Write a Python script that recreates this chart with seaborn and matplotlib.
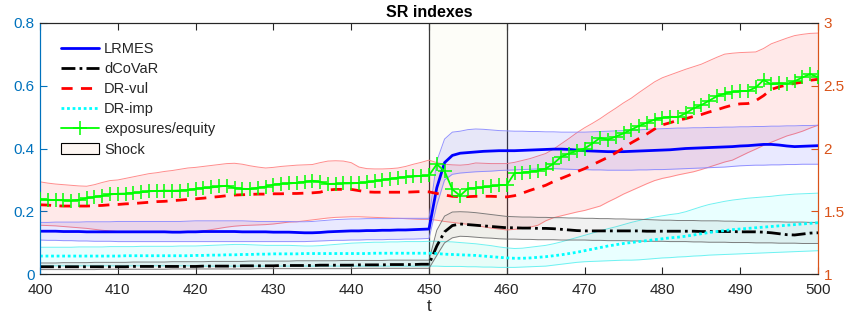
import numpy as np
import pandas as pd
import matplotlib
matplotlib.use("Agg")
import matplotlib.pyplot as plt
import seaborn as sns
from matplotlib.patches import Patch

t = list(range(400, 501))

lrmes = [0.137,0.137,0.137,0.136,0.136,0.136,0.135,0.135,0.135,0.135,
         0.135,0.135,0.135,0.135,0.135,0.135,0.135,0.134,0.134,0.135,
         0.135,0.136,0.136,0.136,0.136,0.136,0.135,0.135,0.135,0.135,
         0.134,0.134,0.134,0.133,0.132,0.132,0.133,0.135,0.136,0.137,
         0.138,0.138,0.139,0.139,0.140,0.140,0.141,0.141,0.142,0.143,
         0.144,0.275,0.355,0.378,0.385,0.387,0.389,0.391,0.392,0.393,
         0.393,0.393,0.394,0.395,0.396,0.397,0.398,0.398,0.397,0.395,
         0.393,0.392,0.391,0.390,0.390,0.390,0.391,0.392,0.393,0.394,
         0.395,0.396,0.398,0.400,0.401,0.402,0.403,0.404,0.405,0.406,
         0.408,0.409,0.411,0.413,0.413,0.411,0.408,0.406,0.407,0.408,0.409]
lrmes_hi = [0.165,0.165,0.166,0.166,0.166,0.166,0.167,0.167,0.167,0.167,
            0.168,0.168,0.168,0.168,0.168,0.168,0.168,0.168,0.168,0.169,
            0.170,0.170,0.170,0.170,0.170,0.170,0.170,0.169,0.168,0.168,
            0.168,0.168,0.168,0.167,0.167,0.168,0.170,0.172,0.174,0.175,
            0.176,0.176,0.177,0.177,0.177,0.177,0.178,0.178,0.178,0.178,
            0.178,0.360,0.430,0.452,0.455,0.460,0.462,0.461,0.459,0.457,
            0.456,0.455,0.455,0.454,0.454,0.453,0.453,0.452,0.452,0.452,
            0.452,0.453,0.454,0.455,0.456,0.457,0.458,0.459,0.461,0.462,
            0.463,0.464,0.465,0.465,0.466,0.466,0.467,0.467,0.468,0.468,
            0.469,0.469,0.470,0.470,0.471,0.471,0.472,0.472,0.473,0.473,0.474]
lrmes_lo = [0.109,0.108,0.108,0.107,0.107,0.106,0.106,0.105,0.105,0.105,
            0.104,0.104,0.104,0.104,0.104,0.104,0.104,0.104,0.104,0.104,
            0.104,0.104,0.104,0.104,0.104,0.104,0.104,0.104,0.104,0.104,
            0.104,0.104,0.104,0.104,0.104,0.105,0.106,0.107,0.108,0.108,
            0.109,0.109,0.110,0.110,0.110,0.111,0.111,0.112,0.112,0.113,
            0.114,0.220,0.300,0.318,0.322,0.324,0.326,0.327,0.328,0.330,
            0.331,0.332,0.333,0.334,0.335,0.336,0.336,0.335,0.334,0.333,
            0.333,0.332,0.332,0.331,0.331,0.331,0.331,0.332,0.332,0.333,
            0.333,0.334,0.335,0.336,0.337,0.338,0.339,0.340,0.341,0.343,
            0.345,0.346,0.347,0.347,0.348,0.348,0.349,0.349,0.350,0.350,0.350]

dcovar = [0.024,0.024,0.024,0.024,0.024,0.024,0.024,0.024,0.024,0.024,
          0.024,0.024,0.025,0.025,0.025,0.025,0.025,0.025,0.025,0.025,
          0.025,0.026,0.026,0.026,0.026,0.026,0.027,0.027,0.027,0.027,
          0.027,0.028,0.028,0.028,0.028,0.028,0.029,0.029,0.029,0.029,
          0.029,0.030,0.030,0.030,0.030,0.031,0.031,0.031,0.031,0.032,
          0.032,0.090,0.135,0.155,0.160,0.158,0.156,0.154,0.152,0.150,
          0.148,0.148,0.147,0.147,0.146,0.146,0.145,0.143,0.141,0.139,
          0.138,0.138,0.138,0.138,0.138,0.138,0.138,0.138,0.137,0.137,
          0.137,0.137,0.137,0.137,0.137,0.136,0.136,0.136,0.136,0.136,
          0.135,0.135,0.135,0.134,0.132,0.129,0.126,0.125,0.128,0.131,0.132]
dcovar_hi = [0.036,0.036,0.036,0.037,0.037,0.037,0.037,0.038,0.038,0.038,
             0.038,0.038,0.039,0.039,0.039,0.039,0.039,0.040,0.040,0.040,
             0.040,0.040,0.041,0.041,0.041,0.041,0.041,0.042,0.042,0.042,
             0.042,0.042,0.042,0.043,0.043,0.043,0.043,0.043,0.043,0.044,
             0.044,0.044,0.044,0.044,0.044,0.045,0.045,0.045,0.045,0.045,
             0.045,0.140,0.185,0.198,0.199,0.198,0.196,0.193,0.190,0.187,
             0.184,0.183,0.182,0.182,0.181,0.181,0.180,0.180,0.179,0.179,
             0.178,0.178,0.177,0.177,0.176,0.176,0.175,0.175,0.174,0.173,
             0.172,0.172,0.171,0.171,0.171,0.170,0.170,0.170,0.169,0.169,
             0.168,0.168,0.168,0.167,0.167,0.167,0.166,0.166,0.166,0.165,0.165]
dcovar_lo = [0.015,0.015,0.015,0.015,0.015,0.015,0.015,0.015,0.016,0.016,
             0.016,0.016,0.016,0.016,0.016,0.016,0.016,0.017,0.017,0.017,
             0.017,0.017,0.017,0.017,0.017,0.017,0.017,0.017,0.018,0.018,
             0.018,0.018,0.018,0.018,0.018,0.018,0.018,0.018,0.018,0.018,
             0.018,0.019,0.019,0.019,0.019,0.019,0.019,0.019,0.019,0.019,
             0.019,0.060,0.100,0.116,0.121,0.120,0.118,0.116,0.115,0.113,
             0.112,0.112,0.111,0.111,0.110,0.110,0.110,0.109,0.109,0.109,
             0.109,0.108,0.108,0.107,0.107,0.107,0.106,0.106,0.105,0.105,
             0.105,0.104,0.104,0.104,0.103,0.103,0.102,0.102,0.102,0.101,
             0.101,0.101,0.100,0.100,0.100,0.099,0.099,0.099,0.098,0.098,0.098]

drvul = [0.221,0.220,0.218,0.217,0.217,0.217,0.217,0.218,0.219,0.221,
         0.222,0.224,0.225,0.227,0.229,0.231,0.232,0.234,0.236,0.238,
         0.240,0.242,0.245,0.247,0.250,0.252,0.253,0.254,0.255,0.255,
         0.256,0.256,0.257,0.257,0.258,0.259,0.261,0.268,0.270,0.270,
         0.270,0.266,0.262,0.261,0.261,0.261,0.261,0.261,0.262,0.263,
         0.262,0.257,0.252,0.248,0.247,0.247,0.248,0.248,0.248,0.247,
         0.246,0.250,0.258,0.267,0.275,0.283,0.295,0.305,0.315,0.326,
         0.336,0.348,0.360,0.372,0.386,0.402,0.418,0.432,0.446,0.462,
         0.475,0.482,0.490,0.495,0.502,0.508,0.516,0.523,0.531,0.538,
         0.542,0.543,0.552,0.568,0.588,0.596,0.602,0.607,0.611,0.617,0.620]
drvul_hi = [0.294,0.290,0.287,0.285,0.283,0.281,0.280,0.285,0.292,0.298,
            0.300,0.305,0.310,0.315,0.320,0.323,0.327,0.330,0.334,0.338,
            0.340,0.343,0.346,0.349,0.352,0.353,0.350,0.345,0.341,0.338,
            0.340,0.343,0.345,0.347,0.348,0.349,0.355,0.360,0.361,0.360,
            0.355,0.341,0.336,0.335,0.335,0.336,0.338,0.343,0.350,0.356,
            0.363,0.355,0.350,0.348,0.347,0.349,0.354,0.353,0.352,0.352,
            0.352,0.356,0.362,0.368,0.376,0.384,0.398,0.415,0.432,0.450,
            0.466,0.480,0.495,0.512,0.528,0.545,0.560,0.578,0.595,0.612,
            0.625,0.634,0.643,0.652,0.660,0.668,0.679,0.690,0.700,0.703,
            0.705,0.706,0.707,0.718,0.733,0.742,0.751,0.759,0.763,0.766,0.767]
drvul_lo = [0.156,0.155,0.154,0.152,0.150,0.148,0.146,0.143,0.140,0.138,
            0.136,0.135,0.135,0.134,0.134,0.134,0.134,0.134,0.134,0.135,
            0.135,0.138,0.142,0.146,0.150,0.153,0.155,0.156,0.157,0.158,
            0.160,0.163,0.166,0.167,0.170,0.173,0.176,0.179,0.181,0.182,
            0.183,0.183,0.182,0.181,0.180,0.179,0.178,0.177,0.176,0.175,
            0.175,0.172,0.168,0.165,0.162,0.159,0.155,0.151,0.147,0.144,
            0.141,0.143,0.146,0.150,0.156,0.170,0.180,0.186,0.192,0.198,
            0.203,0.210,0.217,0.230,0.242,0.255,0.266,0.277,0.288,0.298,
            0.305,0.310,0.316,0.321,0.326,0.333,0.341,0.349,0.357,0.363,
            0.375,0.387,0.398,0.410,0.420,0.430,0.440,0.447,0.455,0.465,0.474]

drimp = [0.058,0.058,0.058,0.058,0.058,0.058,0.058,0.058,0.058,0.058,
         0.058,0.059,0.059,0.059,0.059,0.059,0.059,0.059,0.059,0.059,
         0.060,0.060,0.061,0.061,0.062,0.062,0.063,0.063,0.064,0.064,
         0.065,0.065,0.065,0.065,0.066,0.066,0.066,0.066,0.066,0.066,
         0.066,0.066,0.066,0.067,0.067,0.067,0.067,0.067,0.067,0.067,
         0.067,0.066,0.064,0.063,0.062,0.061,0.060,0.058,0.056,0.054,
         0.052,0.051,0.051,0.052,0.054,0.056,0.059,0.062,0.066,0.070,
         0.075,0.080,0.085,0.090,0.094,0.098,0.101,0.104,0.107,0.110,
         0.113,0.116,0.118,0.121,0.125,0.129,0.133,0.136,0.139,0.142,
         0.144,0.146,0.148,0.150,0.152,0.154,0.156,0.158,0.160,0.162,0.164]
drimp_hi = [0.086,0.086,0.086,0.086,0.086,0.087,0.087,0.087,0.087,0.088,
            0.088,0.088,0.088,0.089,0.089,0.089,0.089,0.089,0.090,0.090,
            0.090,0.091,0.092,0.093,0.094,0.095,0.095,0.094,0.093,0.092,
            0.092,0.092,0.092,0.091,0.090,0.090,0.091,0.093,0.095,0.097,
            0.099,0.100,0.101,0.102,0.102,0.103,0.103,0.104,0.104,0.104,
            0.105,0.105,0.104,0.103,0.101,0.099,0.097,0.094,0.091,0.087,
            0.084,0.082,0.083,0.086,0.089,0.092,0.097,0.103,0.110,0.117,
            0.124,0.131,0.138,0.145,0.151,0.158,0.165,0.171,0.177,0.182,
            0.186,0.190,0.193,0.199,0.207,0.215,0.222,0.227,0.232,0.236,
            0.239,0.242,0.244,0.246,0.248,0.251,0.253,0.255,0.256,0.257,0.258]
drimp_lo = [0.027,0.027,0.027,0.027,0.027,0.027,0.027,0.027,0.027,0.027,
            0.027,0.027,0.027,0.027,0.027,0.027,0.027,0.027,0.027,0.027,
            0.026,0.026,0.026,0.026,0.026,0.026,0.026,0.026,0.026,0.026,
            0.026,0.026,0.026,0.026,0.026,0.026,0.026,0.026,0.026,0.026,
            0.026,0.026,0.026,0.026,0.026,0.026,0.026,0.026,0.026,0.026,
            0.026,0.026,0.025,0.025,0.025,0.024,0.024,0.023,0.023,0.022,
            0.022,0.022,0.023,0.024,0.025,0.026,0.029,0.032,0.035,0.038,
            0.040,0.041,0.042,0.043,0.044,0.045,0.045,0.046,0.048,0.050,
            0.052,0.053,0.055,0.056,0.058,0.059,0.061,0.062,0.063,0.064,
            0.065,0.066,0.067,0.068,0.069,0.070,0.071,0.072,0.073,0.074,0.075]

exposures = [1.596,1.593,1.590,1.588,1.586,1.592,1.605,1.615,1.625,1.635,
             1.640,1.642,1.648,1.652,1.660,1.662,1.665,1.664,1.666,1.670,
             1.680,1.686,1.690,1.698,1.704,1.686,1.680,1.677,1.688,1.697,
             1.712,1.720,1.722,1.727,1.735,1.744,1.735,1.718,1.720,1.722,
             1.723,1.726,1.731,1.740,1.750,1.758,1.768,1.774,1.778,1.782,
             1.786,1.875,1.820,1.675,1.625,1.682,1.686,1.692,1.700,1.708,
             1.710,1.805,1.808,1.816,1.825,1.840,1.880,1.935,1.960,1.980,
             2.000,2.040,2.085,2.070,2.095,2.120,2.150,2.180,2.205,2.230,
             2.245,2.252,2.250,2.280,2.320,2.345,2.380,2.415,2.437,2.450,
             2.455,2.458,2.485,2.545,2.510,2.518,2.514,2.535,2.565,2.592,2.566]

shock_start, shock_end = 450, 460

sns.set_theme(style="white")
plt.rcParams['font.family'] = ['Liberation Sans', 'DejaVu Sans']

fig = plt.figure(figsize=(8.51, 3.25), dpi=100)
ax = fig.add_axes([40/851, 1-274.3/325, (818-40)/851, (274.3-22.7)/325])
ax2 = ax.twinx()

df = pd.DataFrame({"t": t, "lrmes": lrmes, "dcovar": dcovar, "drvul": drvul,
                   "drimp": drimp, "exposures": exposures})

# shock region
ax.axvspan(shock_start, shock_end, facecolor='#fdfdf8', edgecolor='none', zorder=0)
ax.axvline(shock_start, color='#3a3a3a', lw=0.9, zorder=1)
ax.axvline(shock_end, color='#3a3a3a', lw=0.9, zorder=1)

bands = [
    (drvul_lo, drvul_hi, '#ff0000', '#ff8080'),
    (lrmes_lo, lrmes_hi, '#0000ff', '#8888ff'),
    (drimp_lo, drimp_hi, '#00ffff', '#60f0f0'),
    (dcovar_lo, dcovar_hi, '#606060', '#707070'),
]
for lo, hi, fc, ec in bands:
    ax.fill_between(t, lo, hi, color=fc, alpha=0.085, lw=0, zorder=2)
    sns.lineplot(x=t, y=lo, ax=ax, color=ec, lw=0.7, alpha=0.9, zorder=2)
    sns.lineplot(x=t, y=hi, ax=ax, color=ec, lw=0.7, alpha=0.9, zorder=2)

sns.lineplot(data=df, x="t", y="lrmes", ax=ax, color='#0000ff', lw=2.0, zorder=4, label='LRMES')
sns.lineplot(data=df, x="t", y="dcovar", ax=ax, color='#000000', lw=2.0, zorder=4,
             linestyle=(0, (5, 1.5, 1, 1.5)), label='dCoVaR')
sns.lineplot(data=df, x="t", y="drvul", ax=ax, color='#ff0000', lw=2.0, zorder=4,
             linestyle=(0, (4, 3)), label='DR-vul')
sns.lineplot(data=df, x="t", y="drimp", ax=ax, color='#00ffff', lw=2.0, zorder=4,
             linestyle=(0, (1, 1)), label='DR-imp')
sns.lineplot(data=df, x="t", y="exposures", ax=ax2, color='#00ff00', lw=1.3, zorder=5,
             marker='+', markersize=10, markeredgewidth=1.1, markeredgecolor='#00ff00',
             label='exposures/equity')

left_c = '#0072BD'
right_c = '#D95319'
ax.set_xlim(400, 500)
ax.set_ylim(0, 0.8)
ax2.set_ylim(1, 3)
ax.set_xticks(range(400, 501, 10))
ax.set_yticks([0, 0.2, 0.4, 0.6, 0.8])
ax.set_yticklabels(['0', '0.2', '0.4', '0.6', '0.8'])
ax2.set_yticks([1, 1.5, 2, 2.5, 3])
ax2.set_yticklabels(['1', '1.5', '2', '2.5', '3'])

ax.tick_params(axis='x', direction='in', top=True, bottom=True, length=5, width=0.8,
               colors='#262626', labelsize=11, pad=6)
ax.tick_params(axis='y', direction='in', left=True, length=5, width=0.8,
               colors=left_c, labelsize=11, pad=4)
ax2.tick_params(axis='y', direction='in', right=True, length=5, width=0.8,
                colors=right_c, labelsize=11, pad=4)
ax.set_xlabel('t', fontsize=12, color='#262626', labelpad=2)
ax.set_ylabel('')
ax2.set_ylabel('')
ax.set_title('SR indexes', fontsize=11.5, fontweight='bold', color='black', pad=4)

for a in (ax, ax2):
    for s in a.spines.values():
        s.set_linewidth(0.8)
        s.set_visible(True)
    a.spines['top'].set_color('#262626')
    a.spines['bottom'].set_color('#262626')
    a.spines['left'].set_color(left_c)
    a.spines['right'].set_color(right_c)
    a.grid(False)

h1, l1 = ax.get_legend_handles_labels()
h2, l2 = ax2.get_legend_handles_labels()
if ax2.get_legend():
    ax2.get_legend().remove()
shock_patch = Patch(facecolor='#fdf6f2', edgecolor='black', lw=0.8, label='Shock')
handles = h1 + h2 + [shock_patch]
labels = l1 + l2 + ['Shock']
leg = ax.legend(handles, labels, loc='upper left', frameon=False, fontsize=10.5,
                handlelength=2.6, handletextpad=0.35, labelspacing=0.42,
                borderaxespad=0.4, bbox_to_anchor=(0.012, 0.97))
leg.set_zorder(10)

fig.savefig('out.png', dpi=100)
